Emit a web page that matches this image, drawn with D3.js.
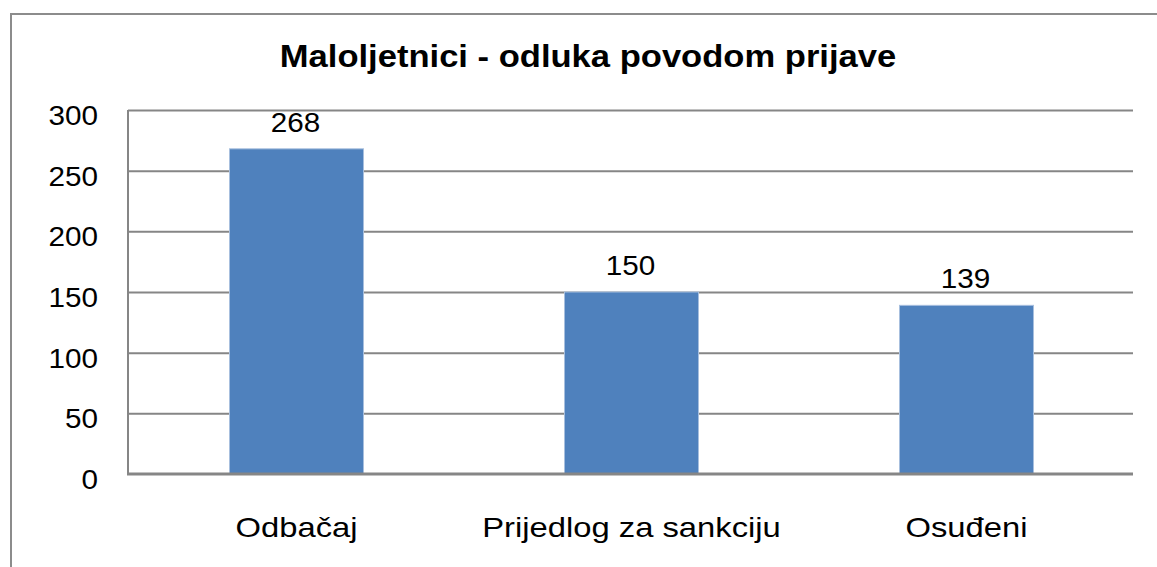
<!DOCTYPE html>
<html>
<head>
<meta charset="utf-8">
<script src="https://cdn.jsdelivr.net/npm/d3@7"></script>
<style>
  body { margin: 0; background: #fff; }
  text { font-family: "Liberation Sans", Arial, sans-serif; fill: #000; }
</style>
</head>
<body>
<div id="chart"></div>
<script>
var title = "Maloljetnici - odluka povodom prijave";
var categories = ["Odbačaj", "Prijedlog za sankciju", "Osuđeni"];
var values = [268, 150, 139];
var yTicks = [0, 50, 100, 150, 200, 250, 300];

var W = 1157, H = 567;
var plot = {left: 128, top: 110, right: 1133, bottom: 474};

var svg = d3.select("#chart")
  .append("svg")
  .attr("width", W)
  .attr("height", H);

// outer frame (runs off the right and bottom edge)
svg.append("rect")
  .attr("x", 11).attr("y", 14)
  .attr("width", 1300).attr("height", 700)
  .attr("fill", "none")
  .attr("stroke", "#8c8c8c")
  .attr("stroke-width", 2);

var x = d3.scaleBand()
  .domain(categories)
  .range([plot.left, plot.right])
  .padding(0);

var y = d3.scaleLinear()
  .domain([0, 300])
  .range([plot.bottom, plot.top]);

// the source picture is a bit stretched sideways, so text gets a x-scale
function label(px, py, str, size, sx, weight, anchor) {
  return svg.append("text")
    .attr("transform", "translate(" + px + "," + py + ") scale(" + sx + ",1)")
    .attr("text-anchor", anchor || "middle")
    .style("font-size", size + "px")
    .style("font-weight", weight || "normal")
    .text(str);
}

// gridlines
svg.append("g")
  .attr("transform", "translate(" + plot.left + ",0)")
  .call(d3.axisLeft(y)
    .tickValues(yTicks.slice(1))
    .tickSize(-(plot.right - plot.left))
    .tickFormat(""))
  .call(function(g) {
    g.select(".domain").remove();
    g.selectAll("line").attr("stroke", "#868686").attr("stroke-width", 2);
  });

// left axis line
svg.append("line")
  .attr("x1", plot.left).attr("x2", plot.left)
  .attr("y1", plot.top).attr("y2", plot.bottom)
  .attr("stroke", "#868686").attr("stroke-width", 2);

// y tick labels
yTicks.forEach(function(t) {
  label(98, y(t) + 15, t, 28, 1.06, "normal", "end");
});

// bars
var bw = x.bandwidth() * 0.4;
svg.selectAll("rect.bar")
  .data(values)
  .enter()
  .append("rect")
  .attr("class", "bar")
  .attr("x", function(d, i) { return x(categories[i]) + (x.bandwidth() - bw) / 2 + 1; })
  .attr("width", bw)
  .attr("y", function(d) { return y(d); })
  .attr("height", function(d) { return plot.bottom - y(d); })
  .attr("fill", "#4f81bd")
  .attr("stroke", "#a7bfde")
  .attr("stroke-width", 1);

// bottom axis line
svg.append("line")
  .attr("x1", plot.left - 1).attr("x2", plot.right)
  .attr("y1", plot.bottom).attr("y2", plot.bottom)
  .attr("stroke", "#868686").attr("stroke-width", 3);

// value labels
values.forEach(function(v, i) {
  label(x(categories[i]) + x.bandwidth() / 2, y(v) - 17, v, 28, 1.06);
});

// category labels
categories.forEach(function(c) {
  label(x(c) + x.bandwidth() / 2 + 1, 537, c, 28, 1.17);
});

// title
label(588, 67, title, 31, 1.115, "bold");
</script>
</body>
</html>
